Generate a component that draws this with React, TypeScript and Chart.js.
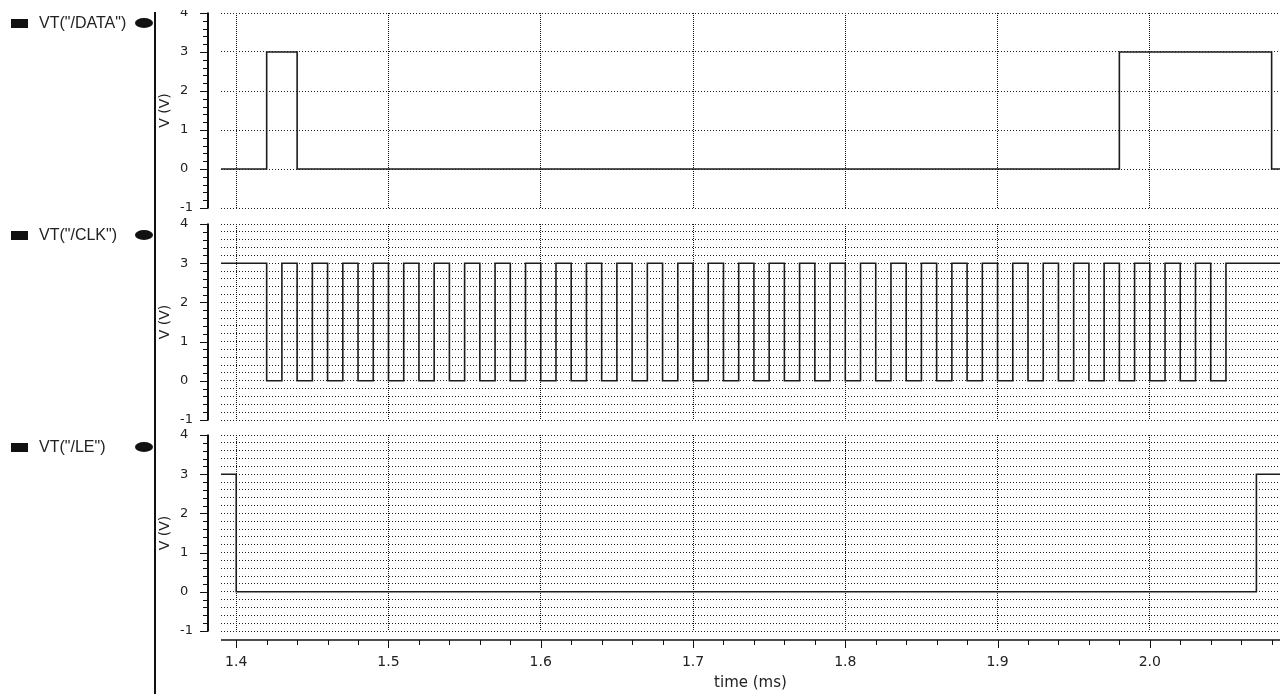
import React, { useEffect, useRef } from 'react';
import { Chart, registerables } from 'chart.js';

Chart.register(...registerables);

// ---------- data ----------
const X_MIN = 1.39;
const X_MAX = 2.0855;
const X_TICKS = [1.4, 1.5, 1.6, 1.7, 1.8, 1.9, 2.0];
const X_MINOR = [
  1.4, 1.42, 1.44, 1.46, 1.48, 1.5, 1.52, 1.54, 1.56, 1.58, 1.6, 1.62, 1.64, 1.66, 1.68,
  1.7, 1.72, 1.74, 1.76, 1.78, 1.8, 1.82, 1.84, 1.86, 1.88, 1.9, 1.92, 1.94, 1.96, 1.98,
  2.0, 2.02, 2.04, 2.06, 2.08,
];
const Y_TICKS = [-1, 0, 1, 2, 3, 4];
const Y_MINOR = [
  -1, -0.8, -0.6, -0.4, -0.2, 0, 0.2, 0.4, 0.6, 0.8, 1, 1.2, 1.4, 1.6, 1.8, 2, 2.2, 2.4,
  2.6, 2.8, 3, 3.2, 3.4, 3.6, 3.8, 4,
];

// /DATA : transition times (ms) and new levels (V)
const DATA_T = [1.39, 1.42, 1.44, 1.98, 2.08, 2.0855];
const DATA_V = [0, 3, 0, 3, 0, 0];

// /CLK : transition times (ms) and new levels (V)
const CLK_T = [
  1.39, 1.42, 1.43, 1.44, 1.45, 1.46, 1.47, 1.48, 1.49, 1.5, 1.51, 1.52, 1.53, 1.54, 1.55,
  1.56, 1.57, 1.58, 1.59, 1.6, 1.61, 1.62, 1.63, 1.64, 1.65, 1.66, 1.67, 1.68, 1.69, 1.7,
  1.71, 1.72, 1.73, 1.74, 1.75, 1.76, 1.77, 1.78, 1.79, 1.8, 1.81, 1.82, 1.83, 1.84, 1.85,
  1.86, 1.87, 1.88, 1.89, 1.9, 1.91, 1.92, 1.93, 1.94, 1.95, 1.96, 1.97, 1.98, 1.99, 2.0,
  2.01, 2.02, 2.03, 2.04, 2.05, 2.0855,
];
const CLK_V = [
  3, 0, 3, 0, 3, 0, 3, 0, 3, 0, 3, 0, 3, 0, 3, 0, 3, 0, 3, 0, 3, 0, 3, 0, 3, 0, 3, 0, 3,
  0, 3, 0, 3, 0, 3, 0, 3, 0, 3, 0, 3, 0, 3, 0, 3, 0, 3, 0, 3, 0, 3, 0, 3, 0, 3, 0, 3, 0,
  3, 0, 3, 0, 3, 0, 3, 3,
];

// /LE : transition times (ms) and new levels (V)
const LE_T = [1.39, 1.4, 2.07, 2.0855];
const LE_V = [3, 0, 3, 3];

const LEGEND = ['VT("/DATA")', 'VT("/CLK")', 'VT("/LE")'];
const Y_TITLE = 'V (V)';
const X_TITLE = 'time (ms)';

// ---------- layout ----------
const W = 1287;
const PANELS = [
  { name: LEGEND[0], t: DATA_T, v: DATA_V, fine: false, top: 10, h: 206, padTop: 3, xh: 8, showX: false, legY: 23 },
  { name: LEGEND[1], t: CLK_T, v: CLK_V, fine: true, top: 216, h: 210, padTop: 8, xh: 6, showX: false, legY: 235 },
  { name: LEGEND[2], t: LE_T, v: LE_V, fine: true, top: 426, h: 268, padTop: 9, xh: 63, showX: true, legY: 447 },
];

const FONT = 'DejaVu Sans';
const isMajorY = (v: number) => Y_TICKS.some((t) => Math.abs(t - v) < 1e-6);
const isMajorX = (v: number) => X_TICKS.some((t) => Math.abs(t - v) < 1e-6);

function makeAxesPlugin(showX: boolean) {
  return {
    id: 'detachedAxes',
    afterDraw(chart: any) {
      const ctx = chart.ctx;
      const ys = chart.scales.y;
      const xs = chart.scales.x;
      const ca = chart.chartArea;
      ctx.save();
      ctx.strokeStyle = '#111';
      const ax = ca.left - 13;
      ctx.lineWidth = 2;
      ctx.beginPath();
      ctx.moveTo(ax, ca.top - 0.5);
      ctx.lineTo(ax, ca.bottom + 0.5);
      ctx.stroke();
      ctx.lineWidth = 1;
      Y_MINOR.forEach((v) => {
        const py = Math.round(ys.getPixelForValue(v)) + 0.5;
        const len = isMajorY(v) ? 8 : 5;
        ctx.beginPath();
        ctx.moveTo(ax - len, py);
        ctx.lineTo(ax, py);
        ctx.stroke();
      });
      if (showX) {
        const ay = ca.bottom + 9;
        ctx.lineWidth = 1.5;
        ctx.beginPath();
        ctx.moveTo(ca.left, ay);
        ctx.lineTo(ca.right, ay);
        ctx.stroke();
        ctx.lineWidth = 1;
        X_MINOR.forEach((v) => {
          const px = Math.round(xs.getPixelForValue(v)) + 0.5;
          const len = isMajorX(v) ? 8 : 5;
          ctx.beginPath();
          ctx.moveTo(px, ay);
          ctx.lineTo(px, ay + len);
          ctx.stroke();
        });
      }
      ctx.restore();
    },
  };
}

function Panel({ p }: { p: (typeof PANELS)[number] }) {
  const ref = useRef<HTMLCanvasElement>(null);
  useEffect(() => {
    if (!ref.current) return;
    const chart = new Chart(ref.current, {
      type: 'line',
      data: {
        datasets: [
          {
            label: p.name,
            data: p.t.map((t, i) => ({ x: t, y: p.v[i] })),
            borderColor: '#1c1c1c',
            borderWidth: 1.6,
            stepped: 'before',
            pointRadius: 0,
            fill: false,
          },
        ],
      },
      options: {
        responsive: false,
        animation: false,
        events: [],
        layout: { padding: { left: 180, right: 7, top: p.padTop, bottom: 0 } },
        plugins: { legend: { display: false }, tooltip: { enabled: false }, title: { display: false } },
        scales: {
          x: {
            type: 'linear',
            min: X_MIN,
            max: X_MAX,
            afterBuildTicks: (s: any) => {
              s.ticks = X_TICKS.map((v) => ({ value: v }));
            },
            afterFit: (s: any) => {
              s.height = p.xh;
              s.paddingLeft = 0;
              s.paddingRight = 0;
            },
            border: { display: false, dash: [1, 1] },
            grid: { color: '#111', lineWidth: 1, drawTicks: false },
            ticks: {
              display: p.showX,
              padding: 23,
              color: '#222',
              font: { family: FONT, size: 14 },
              callback: (v: any) => Number(v).toFixed(1),
            },
            title: {
              display: p.showX,
              text: X_TITLE,
              color: '#222',
              font: { family: FONT, size: 15 },
              padding: { top: 0, bottom: 2 },
            },
          },
          y: {
            type: 'linear',
            min: -1,
            max: 4,
            afterBuildTicks: (s: any) => {
              s.ticks = (p.fine ? Y_MINOR : Y_TICKS).map((v) => ({ value: v }));
            },
            afterFit: (s: any) => {
              s.width = 41;
              s.paddingTop = 0;
              s.paddingBottom = 0;
            },
            border: { display: false, dash: [1, 2] },
            grid: {
              color: '#222',
              lineWidth: 1,
              drawTicks: false,
            },
            ticks: {
              autoSkip: false,
              crossAlign: 'far',
              padding: 0,
              color: '#222',
              font: { family: FONT, size: 13 },
              callback: (v: any) => (isMajorY(Number(v)) ? String(Math.round(Number(v))) : ''),
            },
            title: {
              display: true,
              text: Y_TITLE,
              color: '#222',
              font: { family: FONT, size: 14 },
              padding: { top: -23, bottom: 0 },
            },
          },
        },
      },
      plugins: [makeAxesPlugin(p.showX)],
    } as any);
    return () => chart.destroy();
  }, [p]);

  return (
    <>
      <canvas
        ref={ref}
        width={W}
        height={p.h}
        style={{ position: 'absolute', left: 0, top: p.top, width: W, height: p.h, display: 'block' }}
      />
      <div
        style={{ position: 'absolute', left: 11, top: p.legY - 4.5, width: 17, height: 9, background: '#111' }}
      />
      <div
        style={{
          position: 'absolute',
          left: 39,
          top: p.legY - 10,
          height: 20,
          lineHeight: '20px',
          fontFamily: 'Liberation Sans, Arial, sans-serif',
          fontSize: 16,
          color: '#222',
          whiteSpace: 'nowrap',
        }}
      >
        {p.name}
      </div>
      <div
        style={{
          position: 'absolute',
          left: 135,
          top: p.legY - 5,
          width: 18,
          height: 10,
          borderRadius: '50%',
          background: '#111',
        }}
      />
    </>
  );
}

export default function App() {
  return (
    <div
      style={{
        position: 'absolute',
        left: 0,
        top: 0,
        width: W,
        height: 694,
        background: '#fff',
        overflow: 'hidden',
      }}
    >
      {PANELS.map((p, i) => (
        <Panel key={i} p={p} />
      ))}
      <div style={{ position: 'absolute', left: 154, top: 12, width: 2, height: 682, background: '#111' }} />
    </div>
  );
}
